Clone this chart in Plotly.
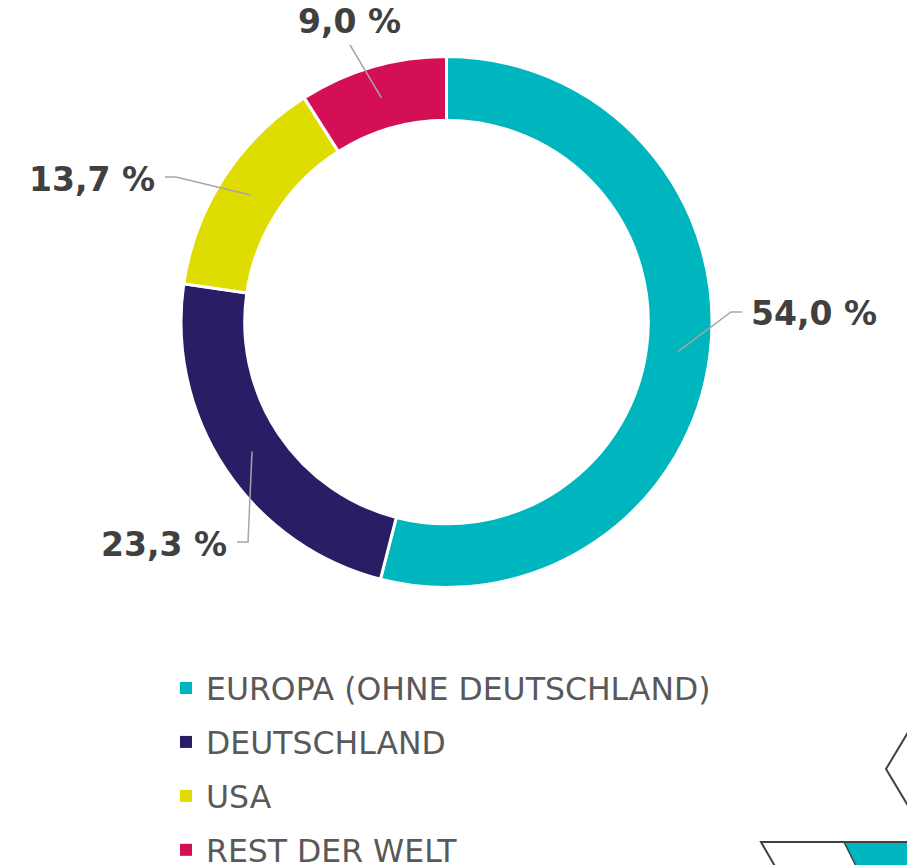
import math
import plotly.graph_objects as go

# ---- data ----
categories = ["EUROPA (OHNE DEUTSCHLAND)", "DEUTSCHLAND", "USA", "REST DER WELT"]
values = [54.0, 23.3, 13.7, 9.0]
label_texts = ["54,0 %", "23,3 %", "13,7 %", "9,0 %"]
colors = ["#00B6BE", "#271E66", "#DEDC00", "#D50F56"]

W, H = 907, 865
CX, CY = 446.5, 322.0
R_OUT = 265.5
HOLE = 0.76
R_MID = R_OUT * (1 + HOLE) / 2

def px(x, y):
    return x / W, 1 - y / H

fig = go.Figure()
fig.add_trace(go.Pie(
    labels=categories, values=values, sort=False, direction="clockwise",
    rotation=0, hole=HOLE, textinfo="none", hoverinfo="label+percent",
    marker=dict(colors=colors, line=dict(color="white", width=3)),
    domain=dict(x=[(CX - R_OUT) / W, (CX + R_OUT) / W],
                y=[1 - (CY + R_OUT) / H, 1 - (CY - R_OUT) / H]),
    showlegend=False,
))

# legend entries (one group each so the spacing can be set)
for i, (cat, col) in enumerate(zip(categories, colors)):
    fig.add_trace(go.Scatter(
        x=[None], y=[None], mode="markers", name=cat, legendgroup=f"g{i}",
        marker=dict(symbol="square", size=12, color=col), hoverinfo="skip"))

# label layout: elbow points and label sides (layout, not data)
elbows = [(731, 312), (248, 542), (176, 177), (350, 45)]
sides = ["right", "left", "left", "top"]

shapes = []
annotations = []
total = sum(values)
cum = 0.0
for v, txt, (ex, ey), side in zip(values, label_texts, elbows, sides):
    mid = (cum + v / 2) / total * 2 * math.pi
    cum += v
    sx = CX + R_MID * math.sin(mid)
    sy = CY - R_MID * math.cos(mid)
    pts = [(sx, sy), (ex, ey)]
    if side == "right":
        pts.append((ex + 11, ey))
        ax, ay, xa, ya = ex + 18, ey + 1, "left", "middle"
    elif side == "left":
        pts.append((ex - 11, ey))
        ax, ay, xa, ya = ex - 19, ey + 2, "right", "middle"
    else:
        ax, ay, xa, ya = ex - 1, ey - 23, "center", "middle"
    path = "M " + " L ".join(f"{px(x, y)[0]:.5f},{px(x, y)[1]:.5f}" for x, y in pts)
    shapes.append(dict(type="path", xref="paper", yref="paper", path=path,
                       line=dict(color="#A6A6A6", width=1.5)))
    qx, qy = px(ax, ay)
    annotations.append(dict(x=qx, y=qy, xref="paper", yref="paper", text=f"<b>{txt}</b>",
                            showarrow=False, xanchor=xa, yanchor=ya,
                            font=dict(family="DejaVu Sans", size=33, color="#404040")))

# decorative corner shapes
def ppath(pts, close=False):
    s = "M " + " L ".join(f"{px(x, y)[0]:.5f},{px(x, y)[1]:.5f}" for x, y in pts)
    return s + (" Z" if close else "")

shapes.append(dict(type="path", xref="paper", yref="paper",
                   path=ppath([(844, 842), (910, 842), (910, 868), (857, 868)], True),
                   fillcolor="#00B6BE", line=dict(color="#404040", width=1.5)))
shapes.append(dict(type="path", xref="paper", yref="paper",
                   path=ppath([(910, 729), (886, 769), (910, 809)]),
                   line=dict(color="#404040", width=2)))
shapes.append(dict(type="path", xref="paper", yref="paper",
                   path=ppath([(910, 842), (761, 842), (776, 868)]),
                   line=dict(color="#404040", width=2)))

fig.update_layout(
    width=W, height=H, margin=dict(l=0, r=0, t=0, b=0, autoexpand=False),
    paper_bgcolor="white", plot_bgcolor="white",
    xaxis=dict(visible=False), yaxis=dict(visible=False),
    shapes=shapes, annotations=annotations,
    legend=dict(x=166 / W, y=1 - 661 / H, xanchor="left", yanchor="top",
                font=dict(family="DejaVu Sans", size=31.5, color="#595959"),
                tracegroupgap=10, bgcolor="rgba(0,0,0,0)"),
    showlegend=True,
)

fig.write_html("out.html", config={"displayModeBar": False},
               post_script="document.body.style.margin='0';document.body.style.overflow='hidden';")
